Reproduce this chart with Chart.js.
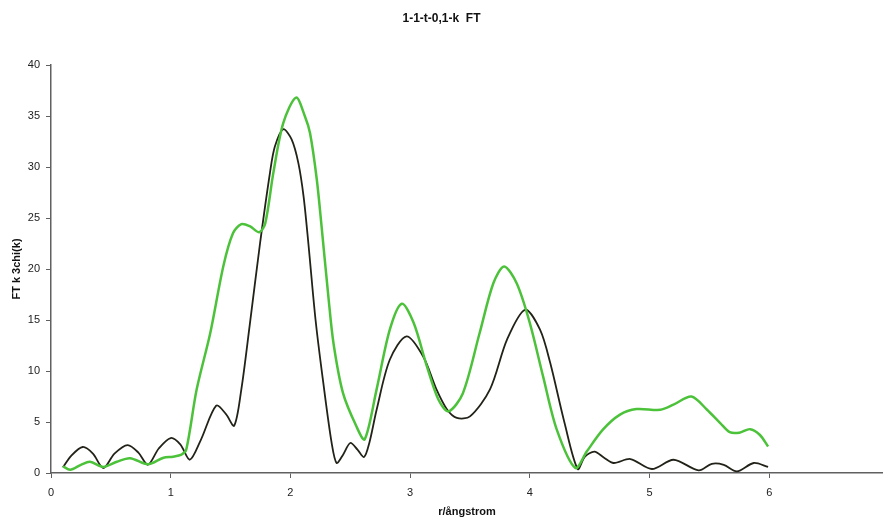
<!DOCTYPE html>
<html>
<head>
<meta charset="utf-8">
<script src="https://cdn.jsdelivr.net/npm/chart.js@4/dist/chart.umd.min.js"></script>
<style>
  html, body { margin: 0; padding: 0; background: #fff; }
  #wrap { width: 883px; height: 519px; }
</style>
</head>
<body>
<div id="wrap"><canvas id="c" width="883" height="519"></canvas></div>
<script>
// r (ångstrom) and FT magnitude for the dark series
const blackR = [0.10,0.17,0.265,0.35,0.437,0.53,0.64,0.73,0.81,0.90,1.00,1.08,1.16,1.25,1.38,1.46,1.53,1.59,1.66,1.746,1.83,1.87,1.94,2.01,2.066,2.11,2.15,2.21,2.275,2.345,2.386,2.44,2.50,2.56,2.615,2.66,2.72,2.83,2.97,3.11,3.22,3.31,3.39,3.50,3.667,3.81,3.96,4.085,4.17,4.29,4.40,4.46,4.54,4.62,4.70,4.84,5.02,5.20,5.41,5.52,5.62,5.73,5.87,5.99];
const blackV = [0.55,1.7,2.55,1.9,0.49,1.9,2.74,2.0,0.81,2.4,3.43,2.8,1.3,3.2,6.6,5.8,4.64,8.2,14.5,22.5,29.5,32.0,33.7,32.7,30.4,27.1,22.5,15.0,8.8,2.9,0.98,1.8,2.94,2.3,1.57,3.0,6.2,11.1,13.4,11.4,8.2,6.2,5.4,5.55,8.2,13.1,16.0,14.05,10.8,4.9,0.39,1.6,2.1,1.5,0.98,1.37,0.39,1.3,0.26,0.9,0.8,0.16,0.98,0.59];
// r (ångstrom) and FT magnitude for the green series
const greenR = [0.10,0.16,0.25,0.326,0.437,0.55,0.66,0.81,0.94,1.02,1.09,1.13,1.217,1.33,1.44,1.52,1.59,1.66,1.74,1.79,1.857,1.94,2.047,2.12,2.164,2.22,2.26,2.317,2.36,2.44,2.55,2.62,2.72,2.83,2.93,3.03,3.14,3.236,3.32,3.44,3.58,3.695,3.785,3.89,4.0,4.11,4.225,4.38,4.475,4.61,4.75,4.89,5.09,5.20,5.35,5.48,5.59,5.67,5.75,5.84,5.92,5.99];
const greenV = [0.65,0.32,0.8,1.1,0.6,1.1,1.45,0.85,1.5,1.6,1.8,2.3,8.2,13.7,20.3,23.5,24.4,24.2,23.6,24.5,29.4,34.3,36.8,35.0,33.3,28.8,24.2,17.3,12.7,7.8,4.6,3.3,8.2,14.05,16.6,14.7,10.45,7.2,6.04,7.8,13.7,18.6,20.25,18.6,14.7,9.5,4.25,0.49,2.1,4.25,5.7,6.27,6.2,6.7,7.5,6.2,4.9,4.0,3.95,4.3,3.75,2.6];
const xTicks = [0,1,2,3,4,5,6];
const yTicks = [0,5,10,15,20,25,30,35,40];

const toPts = (rs, vs) => rs.map((r, i) => ({ x: r, y: vs[i] }));
const FONT = "'Liberation Sans', Arial, sans-serif";

new Chart(document.getElementById('c'), {
  type: 'scatter',
  data: {
    datasets: [
      {
        label: 'green',
        data: toPts(greenR, greenV),
        showLine: true,
        borderColor: '#4cc23a',
        borderWidth: 2.5,
        pointRadius: 0,
        tension: 0.3,
        fill: false
      },
      {
        label: 'black',
        data: toPts(blackR, blackV),
        showLine: true,
        borderColor: '#222218',
        borderWidth: 1.8,
        pointRadius: 0,
        tension: 0.3,
        fill: false
      }
    ]
  },
  options: {
    responsive: false,
    animation: false,
    layout: { padding: { left: 0, right: 0, top: 0, bottom: 0 } },
    plugins: {
      legend: { display: false },
      tooltip: { enabled: false },
      title: {
        display: true,
        text: '1-1-t-0,1-k  FT',
        color: '#111',
        font: { family: FONT, size: 12, weight: 'bold', lineHeight: 1.2 },
        padding: { top: 11, bottom: 39.6 }
      }
    },
    scales: {
      x: {
        type: 'linear',
        min: 0,
        max: 6.95,
        afterBuildTicks: (s) => { s.ticks = xTicks.map(v => ({ value: v })); },
        afterFit: (s) => { s.height = 46; },
        ticks: {
          color: '#222',
          font: { family: FONT, size: 11 },
          padding: 8,
          maxRotation: 0,
          autoSkip: false
        },
        grid: { display: true, drawOnChartArea: false, drawTicks: true, tickLength: 5, color: '#606060', lineWidth: 1 },
        border: { display: true, color: '#606060', width: 1.5 },
        title: {
          display: true,
          text: 'r/ångstrom',
          color: '#111',
          font: { family: FONT, size: 11, weight: 'bold' },
          padding: { top: 0, bottom: 0 }
        }
      },
      y: {
        type: 'linear',
        min: 0,
        max: 40,
        afterBuildTicks: (s) => { s.ticks = yTicks.map(v => ({ value: v })); },
        afterFit: (s) => { s.width = 51; },
        ticks: {
          color: '#222',
          font: { family: FONT, size: 11 },
          padding: 6
        },
        grid: { display: true, drawOnChartArea: false, drawTicks: true, tickLength: 5, color: '#606060', lineWidth: 1 },
        border: { display: true, color: '#606060', width: 1.5 },
        title: {
          display: true,
          text: 'FT k 3chi(k)',
          color: '#111',
          font: { family: FONT, size: 11, weight: 'bold' },
          padding: { top: 10, bottom: 0 }
        }
      }
    }
  }
});
</script>
</body>
</html>
